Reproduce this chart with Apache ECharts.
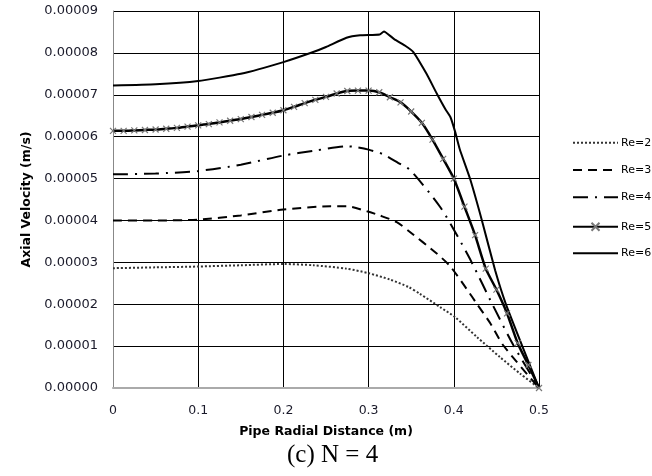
<!DOCTYPE html>
<html><head><meta charset="utf-8">
<script src="https://cdn.jsdelivr.net/npm/echarts@6/dist/echarts.min.js"></script>
<style>html,body{margin:0;padding:0;background:#fff}#c{width:652px;height:476px}</style>
</head><body><div id="c"></div><script>
// Legend / series names
const seriesNames = ['Re=200', 'Re=300', 'Re=400', 'Re=500', 'Re=600'];
const xTicks = [0, 0.1, 0.2, 0.3, 0.4, 0.5];

// Re=2.. (dotted)
const re2X = [0, 0.05, 0.1, 0.15, 0.2, 0.235, 0.274, 0.30, 0.325, 0.347, 0.36, 0.384, 0.4015, 0.427, 0.454, 0.478, 0.5];
const re2Y = [2.86e-5, 2.88e-5, 2.90e-5, 2.93e-5, 2.96e-5, 2.93e-5, 2.85e-5, 2.74e-5, 2.59e-5, 2.41e-5, 2.25e-5, 1.93e-5, 1.69e-5, 1.22e-5, 0.74e-5, 0.34e-5, 0];

// Re=3.. (dashed)
const re3X = [0, 0.05, 0.1, 0.15, 0.2, 0.255, 0.274, 0.298, 0.313, 0.333, 0.347, 0.38, 0.396, 0.419, 0.427, 0.443, 0.458, 0.5];
const re3Y = [4.00e-5, 4.00e-5, 4.02e-5, 4.12e-5, 4.26e-5, 4.34e-5, 4.34e-5, 4.22e-5, 4.12e-5, 3.96e-5, 3.75e-5, 3.21e-5, 2.90e-5, 2.25e-5, 2.01e-5, 1.54e-5, 1.02e-5, 0];

// Re=4.. (dash-dot)
const re4X = [0, 0.05, 0.1, 0.15, 0.2, 0.235, 0.274, 0.286, 0.30, 0.317, 0.335, 0.349, 0.384, 0.405, 0.421, 0.445, 0.47, 0.5];
const re4Y = [5.10e-5, 5.12e-5, 5.18e-5, 5.33e-5, 5.55e-5, 5.66e-5, 5.77e-5, 5.75e-5, 5.69e-5, 5.58e-5, 5.37e-5, 5.20e-5, 4.32e-5, 3.60e-5, 3.00e-5, 2.01e-5, 1.02e-5, 0];

// Re=5.. (solid with x markers)
const re5X = [0, 0.0125, 0.025, 0.0375, 0.05, 0.0625, 0.075, 0.0875, 0.1, 0.1125, 0.125, 0.1375, 0.15, 0.1625, 0.175, 0.1875, 0.2, 0.2125, 0.225, 0.2375, 0.25, 0.2625, 0.275, 0.2875, 0.3, 0.3125, 0.325, 0.3375, 0.35, 0.3625, 0.375, 0.3875, 0.4, 0.4125, 0.425, 0.4375, 0.45, 0.4625, 0.475, 0.4875, 0.5];
const re5Y = [6.14e-5, 6.14e-5, 6.15e-5, 6.16e-5, 6.17e-5, 6.19e-5, 6.21e-5, 6.24e-5, 6.27e-5, 6.30e-5, 6.34e-5, 6.38e-5, 6.42e-5, 6.47e-5, 6.52e-5, 6.57e-5, 6.63e-5, 6.71e-5, 6.80e-5, 6.88e-5, 6.95e-5, 7.03e-5, 7.09e-5, 7.10e-5, 7.10e-5, 7.06e-5, 6.94e-5, 6.82e-5, 6.60e-5, 6.33e-5, 5.93e-5, 5.47e-5, 5.00e-5, 4.33e-5, 3.65e-5, 2.85e-5, 2.35e-5, 1.78e-5, 1.07e-5, 0.55e-5, 0];

// Re=6.. (solid)
const re6X = [0, 0.05, 0.1, 0.15, 0.2, 0.235, 0.25, 0.274, 0.29, 0.313, 0.318, 0.33, 0.343, 0.3525, 0.368, 0.38, 0.39, 0.396, 0.4015, 0.407, 0.419, 0.433, 0.4485, 0.461, 0.48, 0.5];
const re6Y = [7.22e-5, 7.25e-5, 7.33e-5, 7.50e-5, 7.78e-5, 8.02e-5, 8.14e-5, 8.36e-5, 8.42e-5, 8.44e-5, 8.51e-5, 8.33e-5, 8.17e-5, 8.02e-5, 7.50e-5, 7.03e-5, 6.66e-5, 6.47e-5, 6.12e-5, 5.70e-5, 5.00e-5, 4.00e-5, 2.81e-5, 2.01e-5, 1.02e-5, 0];

const zip = (xs, ys) => xs.map((x, i) => [x, ys[i]]);
const font = 'DejaVu Sans';
const crossPath = 'path://M0,0L10,10M10,0L0,10';
const noMark = {color: 'transparent', borderColor: 'transparent', borderWidth: 0};

const legendTops = [137.2, 164.5, 191.8, 220.3, 247.8];
const legends = seriesNames.map((n, i) => ({
  orient: 'vertical', left: 572, top: legendTops[i], padding: 0,
  itemWidth: 45, itemHeight: i === 3 ? 10 : 11,
  textStyle: {fontFamily: font, fontSize: 11, color: '#000', padding: [0, 0, 0, -2]},
  data: [i === 3 ? {name: n} : {name: n, itemStyle: noMark}]
}));

const chart = echarts.init(document.getElementById('c'), null, {renderer: 'canvas'});
chart.setOption({
  animation: false,
  backgroundColor: '#fff',
  grid: {left: 113, right: 113, top: 11, bottom: 88, containLabel: false},
  legend: legends,
  xAxis: {
    type: 'value', min: 0, max: 0.5, interval: 0.1,
    name: 'Pipe Radial Distance (m)', nameLocation: 'middle', nameGap: 37,
    nameTextStyle: {fontFamily: font, fontSize: 12.5, fontWeight: 'bold', color: '#000'},
    axisLine: {show: true, lineStyle: {color: '#aaa', width: 2}},
    axisTick: {show: false},
    axisLabel: {fontFamily: font, fontSize: 12.5, color: '#1a1a2a', margin: 16,
      formatter: v => xTicks.includes(+v.toFixed(1)) ? String(+v.toFixed(1)) : ''},
    splitLine: {show: true, lineStyle: {color: '#000', width: 1}}
  },
  yAxis: {
    type: 'value', min: 0, max: 0.00009, interval: 0.00001,
    name: 'Axial Velocity (m/s)', nameLocation: 'middle', nameGap: 80,
    nameTextStyle: {fontFamily: font, fontSize: 12.5, fontWeight: 'bold', color: '#000'},
    axisLine: {show: true, lineStyle: {color: '#888', width: 1}},
    axisTick: {show: false},
    axisLabel: {fontFamily: font, fontSize: 13, color: '#1a1a2a', margin: 15,
      formatter: v => v.toFixed(5)},
    splitLine: {show: true, lineStyle: {color: '#000', width: 1}}
  },
  graphic: [{
    type: 'text', left: 287, top: 443,
    style: {text: '(c) N = 4', font: '25px "Liberation Serif"', fill: '#000'}
  }],
  series: [
    {name: seriesNames[0], type: 'line', data: zip(re2X, re2Y), symbol: 'none', smooth: 0.25,
     lineStyle: {color: '#333', width: 2, type: [2, 2]}, itemStyle: {color: '#333'}},
    {name: seriesNames[1], type: 'line', data: zip(re3X, re3Y), symbol: 'none', smooth: 0.25,
     lineStyle: {color: '#000', width: 2, type: [9, 6]}, itemStyle: {color: '#000'}},
    {name: seriesNames[2], type: 'line', data: zip(re4X, re4Y), symbol: 'none', smooth: 0.25,
     lineStyle: {color: '#000', width: 2, type: [15, 7, 2, 7]}, itemStyle: {color: '#000'}},
    {name: seriesNames[3], type: 'line', data: zip(re5X, re5Y), symbol: crossPath, symbolSize: 6, showSymbol: true, smooth: 0.2,
     lineStyle: {color: '#000', width: 2.5}, itemStyle: {color: 'none', borderColor: '#777', borderWidth: 1.2}},
    {name: seriesNames[4], type: 'line', data: zip(re6X, re6Y), symbol: 'none', smooth: 0.15,
     lineStyle: {color: '#000', width: 2}, itemStyle: {color: '#000'}}
  ]
});
</script></body></html>
